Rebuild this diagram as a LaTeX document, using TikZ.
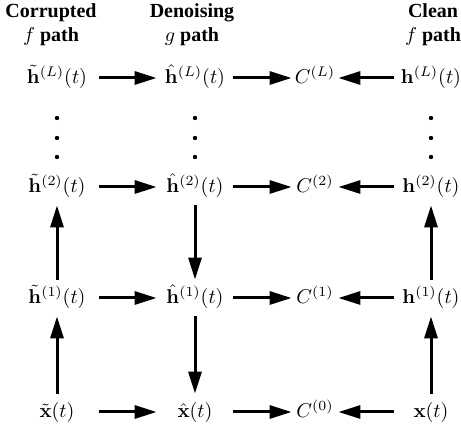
\documentclass[tikz,border=0pt]{standalone}
\usepackage{amsmath}
\usepackage{amssymb}
\usepackage[no-math]{fontspec}
\setmainfont{Liberation Serif}
\usepackage{tikz}
\usetikzlibrary{arrows.meta}

\tikzset{
  var/.style={inner sep=0pt, text height=8pt, text depth=2.5pt, minimum height=16pt},
  colA/.style={var, minimum width=40pt},
  colB/.style={var, minimum width=36pt},
  colC/.style={var, minimum width=21pt},
  colD/.style={var, minimum width=35pt},
  flow/.style={-{Triangle[length=11pt,width=6.5pt]}, line width=1.5pt, shorten <=1pt, shorten >=1pt},
  head/.style={align=center, font=\bfseries, inner sep=0pt}
}

\begin{document}
\begin{tikzpicture}[x=0.5pt, y=-0.5pt]
	\useasboundingbox (0,0) rectangle (461,432);

	% headers
	\node[head] (hcor) at (51,25) {Corrupted\\$f$ path};
	\node[head] (hden) at (192,25) {Denoising\\$g$ path};
	\node[head] (hcln) at (433,25) {Clean\\$f$ path};

	% top layer
	\node[colA] (cL) at (57,78) {$\tilde{\mathbf{h}}^{(L)}(t)$};
	\node[colB] (dL) at (195,78) {$\hat{\mathbf{h}}^{(L)}(t)$};
	\node[colC] (CL) at (315,78) {$C^{(L)}$};
	\node[colD] (kL) at (431,78) {$\mathbf{h}^{(L)}(t)$};

	% layer 2
	\node[colA] (c2) at (57,187) {$\tilde{\mathbf{h}}^{(2)}(t)$};
	\node[colB] (d2) at (195,187) {$\hat{\mathbf{h}}^{(2)}(t)$};
	\node[colC] (C2) at (315,187) {$C^{(2)}$};
	\node[colD] (k2) at (431,187) {$\mathbf{h}^{(2)}(t)$};

	% layer 1
	\node[colA] (c1) at (57,298) {$\tilde{\mathbf{h}}^{(1)}(t)$};
	\node[colB] (d1) at (195,298) {$\hat{\mathbf{h}}^{(1)}(t)$};
	\node[colC] (C1) at (315,298) {$C^{(1)}$};
	\node[colD] (k1) at (431,298) {$\mathbf{h}^{(1)}(t)$};

	% input layer
	\node[colA] (c0) at (57,412) {$\tilde{\mathbf{x}}(t)$};
	\node[colB] (d0) at (195,412) {$\hat{\mathbf{x}}(t)$};
	\node[colC] (C0) at (315,412) {$C^{(0)}$};
	\node[colD] (k0) at (431,412) {$\mathbf{x}(t)$};

	% dots
	\foreach \xx in {57,195,431}
		\foreach \yy in {118,138,157}
			\fill (\xx,\yy) circle (1.1pt);

	% horizontal arrows
	\foreach \r in {L,2,1,0} {
		\draw[flow] (c\r) -- (d\r);
		\draw[flow] (d\r) -- (C\r);
		\draw[flow] (k\r) -- (C\r);
	}

	% vertical arrows
	\draw[flow] (c0) -- (c1);
	\draw[flow] (c1) -- (c2);
	\draw[flow] (d2) -- (d1);
	\draw[flow] (d1) -- (d0);
	\draw[flow] (k0) -- (k1);
	\draw[flow] (k1) -- (k2);
\end{tikzpicture}
\end{document}
